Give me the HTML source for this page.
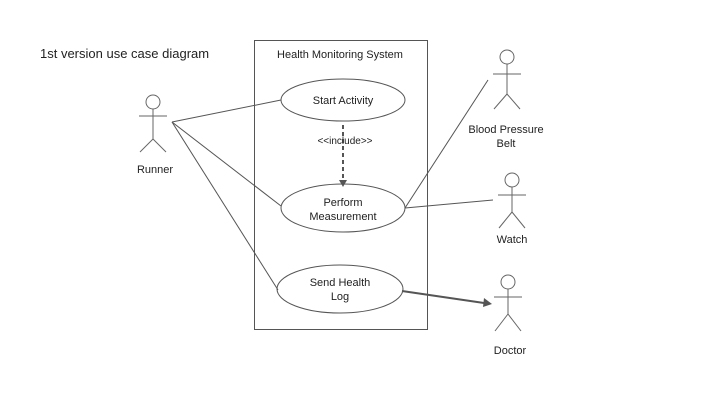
<!DOCTYPE html>
<html><head><style>body{margin:0;background:#fff}svg{display:block}text{font-family:"Liberation Sans",sans-serif;font-size:11px;fill:#222}</style></head><body>
<svg width="720" height="405" viewBox="0 0 720 405">
<text x="40" y="58" font-size="13" style="font-size:13px">1st version use case diagram</text>
<rect x="254.5" y="40.5" width="173" height="289" fill="none" stroke="#555"/>
<text x="340" y="58" text-anchor="middle">Health Monitoring System</text>
<g fill="none" stroke="#555">
<ellipse cx="343" cy="100" rx="62" ry="21"/>
<ellipse cx="343" cy="208" rx="62" ry="24"/>
<ellipse cx="340" cy="289" rx="63" ry="24"/>
<line x1="172" y1="122" x2="281" y2="100"/>
<line x1="172" y1="122" x2="281" y2="206"/>
<line x1="172" y1="122" x2="278" y2="290"/>
<line x1="405" y1="208" x2="488" y2="80"/>
<line x1="405" y1="208" x2="493" y2="200"/>
<line x1="402" y1="291" x2="484" y2="303" stroke-width="2"/>
<line x1="343" y1="125" x2="343" y2="182" stroke-width="2" stroke-dasharray="4,3"/>
</g>
<polygon points="484,298 492,304 483,307" fill="#555"/>
<polygon points="339,180 347,180 343,187" fill="#555"/>
<text x="345" y="144" text-anchor="middle" style="font-size:10px">&lt;&lt;include&gt;&gt;</text>
<text x="343" y="104" text-anchor="middle">Start Activity</text>
<text x="343" y="206" text-anchor="middle">Perform</text>
<text x="343" y="220" text-anchor="middle">Measurement</text>
<text x="340" y="286" text-anchor="middle">Send Health</text>
<text x="340" y="300" text-anchor="middle">Log</text>
<g fill="none" stroke="#666">
<g transform="translate(153,102)"><circle r="7"/><line x1="0" y1="7" x2="0" y2="37"/><line x1="-14" y1="14" x2="14" y2="14"/><line x1="0" y1="37" x2="-13" y2="50"/><line x1="0" y1="37" x2="13" y2="50"/></g>
<g transform="translate(507,57)"><circle r="7"/><line x1="0" y1="7" x2="0" y2="37"/><line x1="-14" y1="17" x2="14" y2="17"/><line x1="0" y1="37" x2="-13" y2="52"/><line x1="0" y1="37" x2="13" y2="52"/></g>
<g transform="translate(512,180)"><circle r="7"/><line x1="0" y1="7" x2="0" y2="32"/><line x1="-14" y1="15" x2="14" y2="15"/><line x1="0" y1="32" x2="-13" y2="48"/><line x1="0" y1="32" x2="13" y2="48"/></g>
<g transform="translate(508,282)"><circle r="7"/><line x1="0" y1="7" x2="0" y2="32"/><line x1="-14" y1="15" x2="14" y2="15"/><line x1="0" y1="32" x2="-13" y2="49"/><line x1="0" y1="32" x2="13" y2="49"/></g>
</g>
<text x="155" y="173" text-anchor="middle">Runner</text>
<text x="506" y="133" text-anchor="middle">Blood Pressure</text>
<text x="506" y="147" text-anchor="middle">Belt</text>
<text x="512" y="243" text-anchor="middle">Watch</text>
<text x="510" y="354" text-anchor="middle">Doctor</text>
</svg>
</body></html>
